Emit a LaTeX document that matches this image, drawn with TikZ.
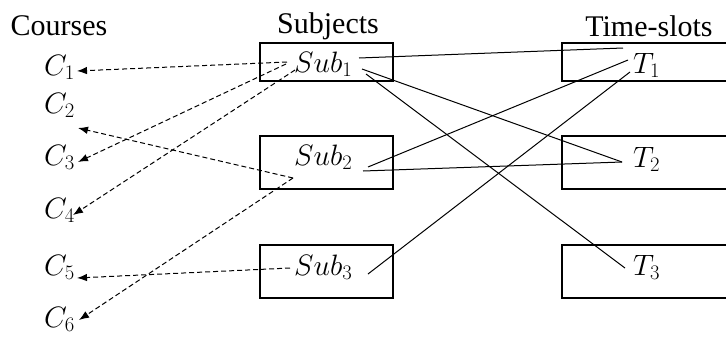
\RequirePackage{fix-cm}
\documentclass[tikz,border=0pt]{standalone}
\usepackage{fontspec}
\setmainfont{Liberation Serif}
\usetikzlibrary{arrows.meta}
\begin{document}
\begin{tikzpicture}[x=1pt,y=-1pt,
  hdr/.style={font=\fontsize{30}{32}\selectfont, inner sep=0pt},
  lbl/.style={font=\fontsize{29.5}{31}\selectfont, inner sep=0pt, anchor=base west},
  box/.style={draw, line width=1.2pt, inner sep=0pt},
  dasharrow/.style={dash pattern=on 5pt off 3pt, line width=1pt, -{Latex[length=10pt,width=7.5pt]}},
  link/.style={line width=1pt}]
\useasboundingbox (0,0) rectangle (726,338);
% headers
\node[hdr] (hc) at (59,26) {Courses};
\node[hdr] (hs) at (328,26) {Subjects};
\node[hdr] (ht) at (649,26) {Time-slots};
% subject boxes
\node[box, minimum width=133pt, minimum height=38pt] (b1) at (326.5,62) {};
\node[box, minimum width=133pt, minimum height=53pt] (b2) at (326.5,162.5) {};
\node[box, minimum width=133pt, minimum height=53pt] (b3) at (326.5,271.5) {};
% time-slot boxes (cut by the right edge)
\draw[line width=1.2pt] (727,43) -| (562,81) -- (727,81);
\draw[line width=1.2pt] (727,136) -| (562,189) -- (727,189);
\draw[line width=1.2pt] (727,245) -| (562,298) -- (727,298);
% labels
\node[lbl] (c1) at (44,75) {$C_1$};
\node[lbl] (c2) at (44,113) {$C_2$};
\node[lbl] (c3) at (44,165) {$C_3$};
\node[lbl] (c4) at (44,218) {$C_4$};
\node[lbl] (c5) at (44,275) {$C_5$};
\node[lbl] (c6) at (44,327) {$C_6$};
\node[lbl] (s1) at (294,72) {$Sub_1$};
\node[lbl] (s2) at (294,165) {$Sub_2$};
\node[lbl] (s3) at (294,275) {$Sub_3$};
\node[lbl] (t1) at (633,73) {$T_1$};
\node[lbl] (t2) at (633,167) {$T_2$};
\node[lbl] (t3) at (633,275) {$T_3$};
% connector end points
\coordinate (c1e) at (77,71);
\coordinate (c2e) at (78,128);
\coordinate (c3e) at (78,162);
\coordinate (c4e) at (73,215);
\coordinate (c5e) at (77,278);
\coordinate (c6e) at (79,320);
\coordinate (s1a) at (287,62);
\coordinate (s1b) at (286,64);
\coordinate (s1c) at (295,70);
\coordinate (s2a) at (293,178);
\coordinate (s3a) at (290,268);
\coordinate (s1r1) at (359,58);
\coordinate (s1r2) at (362,69);
\coordinate (s1r3) at (366,74);
\coordinate (s2r1) at (368,167);
\coordinate (s2r2) at (363,171);
\coordinate (s3r1) at (368,274);
\coordinate (t1a) at (623,48);
\coordinate (t1b) at (628,60);
\coordinate (t1c) at (630,72);
\coordinate (t2a) at (622,162);
\coordinate (t3a) at (625,268);
% dashed arrows
\draw[dasharrow] (s1a) -- (c1e);
\draw[dasharrow] (s1b) -- (c3e);
\draw[dasharrow] (s1c) -- (c4e);
\draw[dasharrow] (s2a) -- (c2e);
\draw[dasharrow] (s2a) -- (c6e);
\draw[dasharrow] (s3a) -- (c5e);
% solid links
\draw[link] (s1r1) -- (t1a);
\draw[link] (s1r2) -- (t2a);
\draw[link] (s1r3) -- (t3a);
\draw[link] (s2r1) -- (t1b);
\draw[link] (s2r2) -- (t2a);
\draw[link] (s3r1) -- (t1c);
\end{tikzpicture}
\end{document}
